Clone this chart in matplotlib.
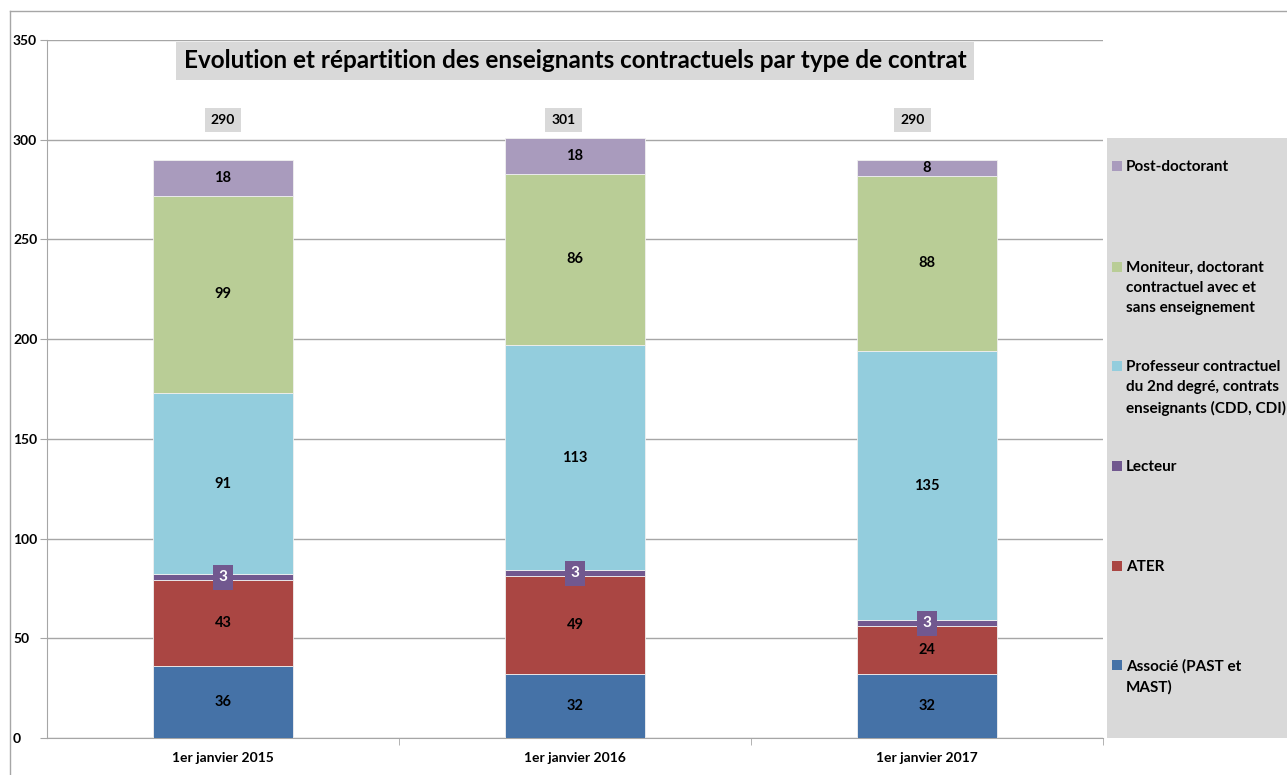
import numpy as np
import matplotlib.pyplot as plt
from matplotlib.patches import Rectangle
from matplotlib.lines import Line2D

plt.rcParams['font.family'] = ['Lato', 'DejaVu Sans']
plt.rcParams['font.weight'] = 'bold'

categories = ['1er janvier 2015', '1er janvier 2016', '1er janvier 2017']
series_names = ['Associé (PAST et\nMAST)', 'ATER', 'Lecteur',
                'Professeur contractuel\ndu 2nd degré, contrats\nenseignants (CDD, CDI)',
                'Moniteur, doctorant\ncontractuel avec et\nsans enseignement',
                'Post-doctorant']
associe = [36, 32, 32]
ater = [43, 49, 24]
lecteur = [3, 3, 3]
professeur = [91, 113, 135]
moniteur = [99, 86, 88]
postdoc = [18, 18, 8]
totals = [290, 301, 290]
colors = ['#4572a7', '#aa4643', '#71588f', '#93cddd', '#b9cd96', '#a99bbd']

series = [associe, ater, lecteur, professeur, moniteur, postdoc]

fig = plt.figure(figsize=(12.87, 7.75), dpi=100)
ax = fig.add_axes([47/1287, 37/775, 1056/1287, 698/775])

x = np.arange(len(categories))
bottom = np.zeros(len(categories))
for k, vals in enumerate(series):
    vals = np.array(vals)
    ax.bar(x, vals, 0.4, bottom=bottom, color=colors[k], edgecolor='#f0f0f0', linewidth=0.6, zorder=3)
    for i in range(len(x)):
        yc = bottom[i] + vals[i] / 2
        if k == 2:
            ax.text(x[i], yc, str(vals[i]), ha='center', va='center', fontsize=11, color='white',
                    fontweight='bold', zorder=5,
                    bbox=dict(boxstyle='square,pad=0.35', facecolor=colors[2], edgecolor='none'))
        else:
            ax.text(x[i], yc, str(vals[i]), ha='center', va='center', fontsize=10.5,
                    fontweight='bold', zorder=5)
    bottom += vals

total_pos = [0, 0.967, 1.96]
for i, t in enumerate(totals):
    ax.text(total_pos[i], 310, str(t), ha='center', va='center', fontsize=10, fontweight='bold',
            bbox=dict(boxstyle='square,pad=0.45', facecolor='#d9d9d9', edgecolor='none'))

ax.set_xlim(-0.5, 2.5)
ax.set_ylim(0, 350)
ax.set_yticks(np.arange(0, 351, 50))
ax.grid(axis='y', color='#a6a6a6', linewidth=1, zorder=0)
ax.set_xticks(x)
ax.set_xticklabels(categories, fontsize=10, fontweight='bold')
ax.set_xticks([0.5, 1.5, 2.5], minor=True)
ax.tick_params(axis='x', which='major', length=0, pad=10)
ax.tick_params(axis='x', which='minor', length=5, color='#a6a6a6', direction='out')
ax.tick_params(axis='y', length=5, color='#a6a6a6', labelsize=10, pad=19.5)
for lab in ax.get_yticklabels():
    lab.set_horizontalalignment('left')
    lab.set_fontweight('bold')
for s in ['top', 'right']:
    ax.spines[s].set_visible(False)
for s in ['left', 'bottom']:
    ax.spines[s].set_color('#a6a6a6')

ax.text(0.5, 0.970, 'Evolution et répartition des enseignants contractuels par type de contrat',
        transform=ax.transAxes, ha='center', va='center', fontsize=17.5, fontweight='bold',
        bbox=dict(boxstyle='square,pad=0.3', facecolor='#d9d9d9', edgecolor='none'))

# legend panel
lax = fig.add_axes([1107/1287, 37/775, 180/1287, 600/775])
lax.set_xlim(0, 180)
lax.set_ylim(600, 0)
lax.set_facecolor('#d9d9d9')
lax.set_xticks([])
lax.set_yticks([])
for s in lax.spines.values():
    s.set_visible(False)
leg_y = [527, 428, 328, 228, 129, 28]
for k in range(len(series_names)):
    lax.add_patch(Rectangle((5, leg_y[k] - 5), 10, 10, facecolor=colors[k], edgecolor='none'))
    lax.text(19, leg_y[k] - 6, series_names[k], ha='left', va='top', fontsize=11,
             fontweight='bold', linespacing=1.55)

# outer border
fig.add_artist(Line2D([10/1287, 1], [1 - 11/775, 1 - 11/775], color='#a6a6a6', linewidth=1))
fig.add_artist(Line2D([10/1287, 10/1287], [0, 1 - 11/775], color='#a6a6a6', linewidth=1))

fig.savefig('out.png', dpi=100)
